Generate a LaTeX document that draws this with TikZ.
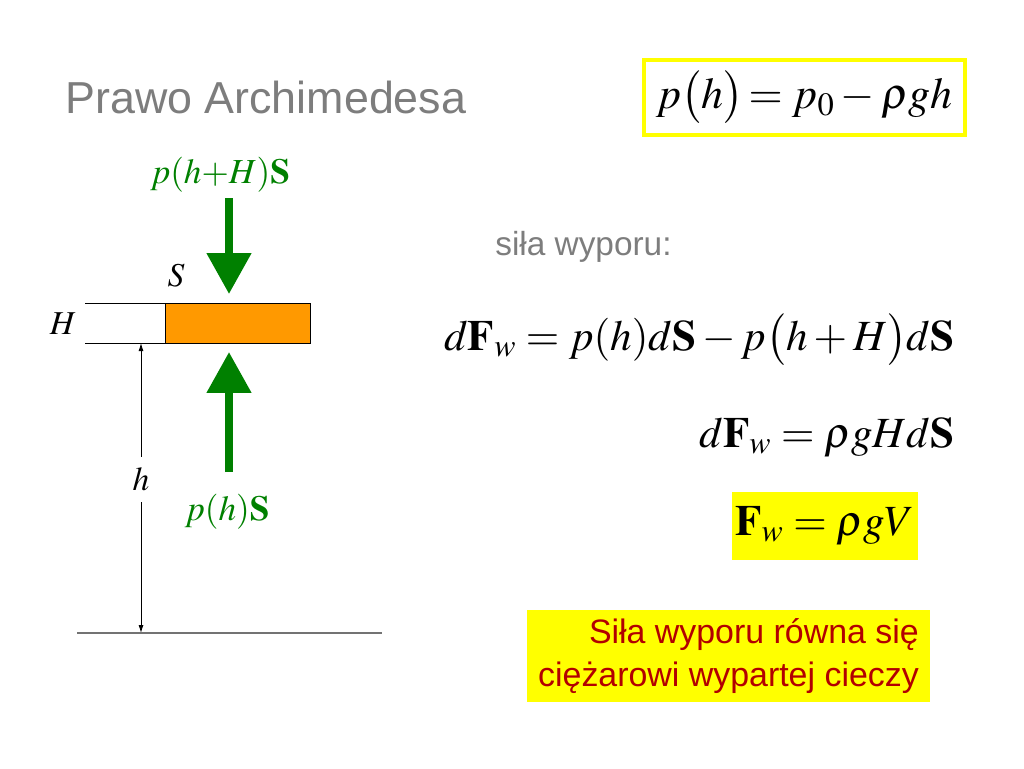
\documentclass[tikz,border=0pt]{standalone}
\usepackage{mathptmx}
\usepackage[no-math]{fontspec}
\setmainfont{Liberation Sans}
\usetikzlibrary{arrows.meta, positioning}

\definecolor{titlegray}{RGB}{125,125,125}
\definecolor{forcegreen}{RGB}{0,128,0}
\definecolor{blockorange}{RGB}{255,153,0}
\definecolor{notered}{RGB}{178,0,0}
\definecolor{lemon}{RGB}{255,255,0}

\begin{document}
\begin{tikzpicture}[
  x=0.02cm, y=-0.02cm,
  >=Stealth,
  titletext/.style={font=\fontsize{25.5}{30}\selectfont, text=titlegray, inner sep=0pt, anchor=base west},
  subtext/.style={font=\fontsize{19}{23}\selectfont, text=titlegray, inner sep=0pt, anchor=base west},
  forcelabel/.style={font=\fontsize{20}{24}\selectfont, text=forcegreen, inner sep=0pt, anchor=base},
  symlabel/.style={font=\fontsize{19}{23}\selectfont, inner sep=0pt},
  eqnode/.style={font=\fontsize{24.5}{28}\selectfont, inner sep=0pt, anchor=base east},
  blockbox/.style={draw=black, line width=0.5pt, fill=blockorange, minimum width=2.9cm, minimum height=0.8cm, inner sep=0pt, outer sep=0pt},
  pressbox/.style={draw=lemon, line width=2.3pt, minimum width=6.42cm, minimum height=1.5cm, inner sep=0pt, font=\fontsize{25}{30}\selectfont},
  resultbox/.style={fill=lemon, minimum width=3.72cm, minimum height=1.36cm, inner sep=0pt, font=\fontsize{24.5}{28}\selectfont},
  notebox/.style={fill=lemon, minimum width=8.06cm, minimum height=1.84cm, align=right, text=notered, font=\fontsize{19.3}{24.4}\selectfont},
  force/.style={draw=forcegreen, line width=0.16cm, -{Triangle[length=0.82cm, width=0.86cm]}},
  dimline/.style={draw=black, line width=0.5pt, {Latex[length=0.16cm, width=0.1cm]}-{Latex[length=0.16cm, width=0.1cm]}},
  ground/.style={draw=black!55, line width=0.8pt}
]
\useasboundingbox (0,0) rectangle (1024,768);

% Title and pressure law
\node[titletext] (title) at (65,113) {Prawo Archimedesa};
\node[pressbox]  (press) at (804.5,97.5) {$p\bigl(h\bigr)\!= p_0-\rho g h$};

% Block of liquid
\node[blockbox]  (block) at (237.5,323) {};
\coordinate (ghostTop) at ([xshift=-1.6cm]block.north west);
\coordinate (ghostBot) at ([xshift=-1.6cm]block.south west);
\node[symlabel]  (Hlab)  at (63,324) {$H$};
\node[symlabel]  (Slab)  at (176,276) {$S$};

% Forces
\node[forcelabel] (topF) at (220,183) {$p(h{+}H)\mathbf{S}$};
\node[forcelabel] (botF) at (227,520) {$p(h)\mathbf{S}$};
\coordinate (topStart) at (229,198);
\coordinate (botStart) at (229,472);

% Depth
\coordinate (dimTop) at (141,343);
\coordinate (groundL) at (77,633);
\coordinate (groundR) at (382,633);

% Equations
\node[subtext] (wyp)  at (495,255) {siła wyporu:};
\node[eqnode]  (eqA)  at (955,350) {$d\mathbf{F}_w = p(h)d\mathbf{S} - p\bigl(h+H\bigr)d\mathbf{S}$};
\node[eqnode]  (eqB)  at (955,447) {$d\mathbf{F}_w = \rho g H d\mathbf{S}$};
\node[resultbox] (eqC) at (825,526) {$\mathbf{F}_w = \rho g V$};
\node[notebox] (note) at (728.5,656) {Siła wyporu równa się\\ciężarowi wypartej cieczy};

% Lines
\draw[line width=0.5pt] (ghostTop) -- (block.north west);
\draw[line width=0.5pt] (ghostBot) -- (block.south west);
\draw[force] (topStart) -- ([yshift=0.18cm]topStart |- block.north);
\draw[force] (botStart) -- ([yshift=-0.18cm]botStart |- block.south);
\draw[dimline] (dimTop) -- node[pos=0.47, fill=white, symlabel, inner ysep=6pt] (hlab) {$h$} (dimTop |- groundL);
\draw[ground] (groundL) -- (groundR);
\end{tikzpicture}
\end{document}
